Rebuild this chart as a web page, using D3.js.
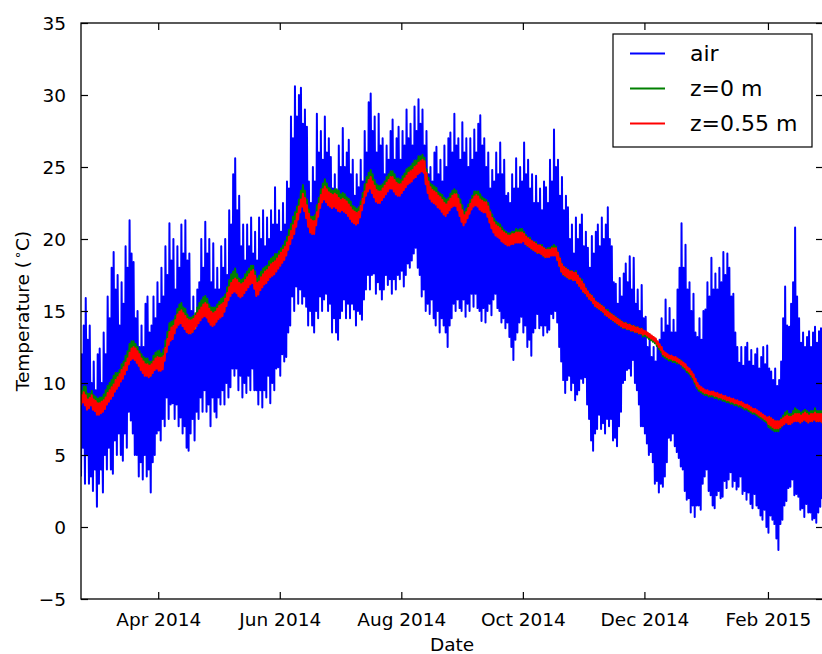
<!DOCTYPE html>
<html>
<head>
<meta charset="utf-8">
<script src="https://cdn.jsdelivr.net/npm/d3@7"></script>
<style>
  body { margin: 0; background: #fff; }
  svg { display: block; }
  text { font-family: "DejaVu Sans", sans-serif; fill: #000; }
</style>
</head>
<body>
<svg id="chart" width="822" height="654"></svg>
<script>
// Daily series, one value per day starting 21 Feb 2014.
const firstDay = "2014-02-21";

// Air temperature: daily maximum and minimum (deg C)
const airHi = [
  12, 14, 15.9, 13, 14, 10, 11.5, 9.5, 12, 12.4,
  10, 13.5, 12, 16, 14.5, 18, 19.1, 16.5, 17.5, 14,
  17, 15.5, 19.5, 18, 21.3, 19, 18.4, 14.5, 15, 12.5,
  14, 12.5, 15.5, 16, 13.5, 14, 16, 14.5, 17, 15.5,
  18, 16, 19.5, 17.5, 21.1, 18.5, 20, 16.5, 19.5, 18,
  21, 19, 21.3, 18.5, 19, 15, 16, 13.7, 16.5, 17,
  20, 18, 21.2, 19, 20, 17, 19.7, 16.5, 18, 16.5,
  19.5, 18, 20, 17.5, 22, 21, 24.5, 25.6, 22, 23,
  19.5, 21, 18.5, 21, 19.5, 21.5, 19, 20.5, 18.5, 21.5,
  20, 22, 19.5, 21.5, 20, 22, 21, 23.6, 21, 22,
  20.5, 22.5, 21, 24, 23.5, 28.5, 27, 30.6, 28.5, 30,
  30.5, 28, 29, 27.8, 24, 22.5, 25, 24, 28.7, 26,
  27.5, 25.5, 28.5, 26, 27, 25.7, 23.5, 24.5, 23, 26.5,
  25, 27.7, 25, 26, 26.9, 24.5, 25.5, 23, 24.5, 23.6,
  25.5, 24, 27.5, 26, 29.5, 30.1, 27.5, 28.5, 26, 28.7,
  26.5, 27, 24.5, 26.5, 25.5, 27.5, 28.3, 25.5, 27, 27.8,
  25.5, 27.5, 26.5, 29, 27, 28, 26.5, 29.2, 27.5, 29.7,
  28, 29, 26.5, 27.5, 24.5, 25, 24, 26, 26.4, 24.5,
  25.5, 24, 26.5, 25, 27, 27.4, 26, 28.7, 26.5, 27,
  25.5, 28.1, 26, 27, 25, 27, 25.5, 27.6, 26, 28,
  28.6, 26.5, 27, 25, 26, 23.5, 24.8, 24, 26, 24.5,
  26.7, 24.5, 25.5, 23, 23.2, 22.5, 24.5, 23.5, 25.6, 23.5,
  25, 24, 26.7, 24.5, 25.5, 23.5, 24.5, 22.5, 24.4, 22.5,
  23.5, 22, 24, 23.6, 22.5, 25.5, 24, 27.6, 25, 25.5,
  23, 24.3, 22, 23, 22.2, 20, 21, 19, 21.5, 20,
  21, 21.7, 19.5, 20.5, 19.4, 18, 20.2, 19, 20.5, 21,
  19.5, 21.5, 20, 21, 22.2, 20, 19.5, 17, 16.9, 15.5,
  17.3, 16, 17.6, 18.3, 17, 18.8, 16.5, 18.7, 15.5, 16.5,
  15, 16.8, 14.5, 14.6, 12.5, 13, 11.8, 12.5, 11.5, 12.8,
  13, 14.5, 13.5, 15.8, 14, 15.2, 13.5, 14.4, 13.5, 16.5,
  18, 21.1, 18, 19.6, 16.5, 17, 15, 16.2, 13.5, 13.2,
  14.5, 13, 15, 15.1, 17, 16, 18.7, 16.5, 17.6, 16.5,
  18, 17, 19.1, 17.5, 19, 18, 16, 16.2, 13.5, 12.5,
  11.4, 12.5, 11.2, 12.5, 12.8, 11.5, 12.3, 11.2, 12, 12.4,
  11, 11.8, 12.5, 11.3, 12.6, 11, 10.8, 10.2, 11, 9.8,
  10.2, 11.5, 14.5, 16.7, 14, 13.9, 15.5, 17, 20.8, 16,
  14.5, 12.8, 13.5, 12.5, 13.2, 13.6, 12.5, 13.5, 13.9, 12.8,
  13.6, 13.8, 13
];
const airLo = [
  3.5, 5.5, 3, 5, 3, 3.5, 2.5, 4, 1.4, 3,
  4, 2.4, 5, 4, 5.5, 4, 3.7, 6, 5, 6.5,
  5, 4.6, 6.5, 5.5, 8, 7.4, 6.5, 5, 5, 3.5,
  4.5, 3.3, 5, 3.5, 4, 2.4, 4.5, 5, 6.5, 6.7,
  6, 7.5, 7, 9, 7.5, 8.5, 8.6, 7.5, 8.5, 7,
  7.6, 6.5, 7, 5.5, 5.3, 6.5, 7.5, 6, 8, 7.5,
  9, 8, 9.5, 8, 8.5, 7, 9, 8, 7.6, 9,
  8.5, 9.5, 8.5, 10, 9, 9.7, 11, 10.5, 11, 9.5,
  10.5, 9, 10, 9.3, 10.5, 9.5, 11, 9.5, 9.5, 8.5,
  9.5, 8.3, 9.5, 9, 10.5, 8.6, 10, 9.5, 11, 11.1,
  10.5, 12, 11.5, 11.8, 13.5, 14, 16, 15, 16.7, 15.5,
  16.5, 15.5, 16, 15.3, 14, 15, 14, 13.5, 15, 14.5,
  16, 15, 15.8, 16.2, 15, 15.5, 13.5, 14.5, 13.5, 13,
  14.5, 15, 15.8, 14.5, 15.5, 14.5, 15.5, 15.1, 14, 15,
  14.8, 14.4, 15.8, 16.5, 17.5, 16.5, 17.5, 17.6, 16.2, 17,
  16.5, 15.8, 16.5, 17.5, 16.8, 17.2, 16.2, 17.2, 16.5, 17.5,
  17.2, 17.8, 16.7, 17.5, 18.3, 18, 18.5, 19, 19.4, 18,
  17.5, 16, 16.5, 15, 15.5, 14.8, 15.8, 14.5, 14, 15,
  13.5, 14.5, 14, 13.5, 12.5, 14, 14.5, 15.5, 15, 15.8,
  15.2, 15, 15.8, 14.6, 15.5, 15, 16.2, 15.3, 16.2, 15.2,
  15, 14.3, 15.2, 14.2, 15, 15.5, 14.7, 15.8, 16.2, 15.2,
  15, 14.2, 14.5, 13.8, 14.2, 13.2, 12.5, 11.6, 13, 13.5,
  14.2, 14.6, 13.5, 14, 12.5, 13, 11.9, 13.5, 13.8, 14.8,
  13.8, 14, 13.3, 14, 13.5, 13.7, 14.8, 14.5, 15, 14.2,
  12.5, 11.5, 10.2, 9.3, 10.2, 10.5, 9.5, 10, 8.8, 9.2,
  9.5, 10.3, 10, 10.4, 8.5, 7.5, 6, 5.3, 6.5, 6.8,
  7.8, 6.8, 7.2, 6.5, 7.5, 7, 7.5, 6, 6.2, 5.6,
  7, 8, 10, 10.2, 10.9, 11, 10.5, 11.6, 10, 9.5,
  8.5, 7, 7, 6.5, 5.8, 5, 5.2, 4.5, 3, 3.2,
  2.4, 3, 2.8, 3.5, 4.5, 6.2, 6, 6.5, 5.6, 5.2,
  4.8, 4.2, 4, 2.5, 1.9, 2, 1, 1.5, 0.7, 1.5,
  1.5, 1.2, 3, 3.5, 4, 2.5, 2.2, 1.5, 1.3, 2.2,
  2.5, 2, 2.1, 3.2, 2.7, 3.3, 3.8, 2.8, 3.2, 2.6,
  2.8, 3.5, 2.3, 2.5, 1.9, 2.4, 1.6, 1.3, 2.3, 1.5,
  1.3, 0.8, 0.5, 1.2, 0, -0.4, 0.8, 0.5, 0.2, -0.8,
  -1.6, 0.2, 0.5, 1.5, 1.8, 2.7, 2.8, 3.3, 2.2, 2.3,
  2.1, 1.2, 1.3, 0.7, 1.6, 1, 1, 0.5, 0.6, 0.3,
  1, 1.4, 2
];

// Soil temperature at the surface (z = 0 m): daily mean
const z0Mean = [
  9.0, 9.3, 9.3, 8.8, 8.8, 9.0, 8.7, 8.6, 8.4, 8.5,
  8.5, 8.7, 9.0, 9.3, 9.5, 9.7, 10.0, 10.2, 10.2, 10.4,
  10.8, 11.0, 11.4, 11.7, 12.2, 12.4, 12.4, 12.2, 12.0, 11.7,
  11.5, 11.3, 11.2, 11.2, 11.0, 11.0, 11.4, 11.6, 11.7, 11.7,
  11.5, 11.8, 12.4, 13.0, 13.6, 13.7, 13.8, 14.1, 14.6, 14.9,
  15.0, 14.7, 14.6, 14.2, 14.0, 14.0, 14.1, 14.3, 14.7, 15.0,
  15.2, 15.4, 15.5, 15.3, 14.9, 14.7, 14.7, 14.7, 14.9, 15.1,
  15.3, 15.4, 15.6, 16.1, 16.6, 17.0, 17.2, 17.4, 17.0, 16.7,
  16.6, 16.7, 17.0, 17.2, 17.4, 17.6, 17.6, 17.2, 16.7, 16.9,
  17.2, 17.4, 17.5, 17.6, 17.9, 18.1, 18.2, 18.4, 18.4, 18.6,
  18.8, 19.0, 19.3, 19.6, 20.1, 20.5, 21.0, 21.3, 21.7, 22.2,
  22.8, 23.2, 22.8, 22.2, 21.5, 21.0, 21.0, 21.1, 21.8, 22.3,
  22.9, 23.3, 23.6, 23.3, 23.0, 22.9, 22.8, 22.9, 22.9, 22.8,
  22.6, 22.7, 22.6, 22.4, 22.3, 22.1, 21.8, 21.7, 21.6, 21.7,
  22.1, 22.7, 23.3, 23.8, 24.1, 24.3, 24.0, 23.6, 23.3, 23.2,
  23.2, 23.3, 23.5, 23.8, 24.0, 24.2, 24.2, 24.0, 23.7, 23.7,
  23.6, 23.9, 24.1, 24.4, 24.5, 24.6, 24.8, 25.0, 25.0, 25.3,
  25.3, 25.4, 25.2, 24.4, 23.8, 23.4, 23.3, 23.2, 23.1, 22.8,
  22.7, 22.6, 22.4, 22.3, 22.4, 22.7, 22.9, 23.0, 22.9, 22.6,
  22.3, 21.9, 21.5, 21.7, 22.0, 22.3, 22.6, 22.9, 22.9, 22.9,
  22.7, 22.5, 22.4, 22.3, 22.1, 21.6, 21.3, 21.0, 20.8, 20.7,
  20.6, 20.4, 20.2, 20.1, 20.0, 20.0, 20.1, 20.1, 20.3, 20.2,
  20.3, 20.3, 20.2, 20.0, 19.8, 19.8, 19.6, 19.5, 19.5, 19.3,
  19.3, 19.3, 19.1, 19.0, 19.1, 19.1, 19.2, 19.3, 19.2, 18.8,
  18.4, 18.0, 17.8, 17.7, 17.6, 17.5, 17.5, 17.4, 17.5, 17.2,
  17.0, 16.9, 16.6, 16.4, 16.2, 16.0, 15.9, 15.7, 15.5, 15.4,
  15.3, 15.2, 15.1, 14.9, 14.9, 14.7, 14.6, 14.5, 14.4, 14.3,
  14.2, 14.1, 14.0, 14.0, 13.9, 13.9, 13.8, 13.8, 13.7, 13.7,
  13.6, 13.6, 13.4, 13.4, 13.3, 13.2, 13.1, 13.0, 12.9, 12.7,
  12.5, 12.3, 12.0, 11.9, 11.8, 11.7, 11.7, 11.6, 11.6, 11.5,
  11.5, 11.4, 11.2, 11.1, 10.9, 10.8, 10.6, 10.4, 10.1, 9.8,
  9.6, 9.5, 9.4, 9.3, 9.3, 9.2, 9.2, 9.2, 9.1, 9.1,
  9.0, 9.0, 8.9, 8.9, 8.8, 8.8, 8.7, 8.7, 8.6, 8.6,
  8.5, 8.5, 8.4, 8.3, 8.3, 8.2, 8.1, 8.0, 8.0, 7.9,
  7.8, 7.7, 7.6, 7.5, 7.4, 7.3, 7.2, 7.1, 7.0, 7.0,
  7.0, 7.2, 7.4, 7.6, 7.7, 7.5, 7.5, 7.7, 7.9, 7.8,
  7.7, 7.6, 7.7, 7.8, 7.7, 7.6, 7.7, 7.7, 7.9, 7.7,
  7.7, 7.7, 7.6
];

// Soil temperature at 0.55 m depth: daily mean
const z55Mean = [
  8.8, 9, 8.8, 8.5, 8.6, 8.8, 8.5, 8.4, 8.2, 8.2,
  8.3, 8.4, 8.6, 8.9, 9.1, 9.3, 9.5, 9.8, 10, 10.2,
  10.5, 10.7, 11, 11.3, 11.7, 12, 12.1, 12, 11.8, 11.6,
  11.3, 11.1, 10.9, 10.9, 10.8, 10.9, 11.1, 11.3, 11.4, 11.3,
  11.3, 11.4, 12, 12.6, 13.1, 13.4, 13.5, 13.9, 14.3, 14.5,
  14.6, 14.4, 14.2, 14, 13.9, 13.9, 14, 14.2, 14.4, 14.6,
  14.8, 15, 15.1, 15, 14.7, 14.5, 14.4, 14.5, 14.7, 14.9,
  15, 15.1, 15.4, 15.8, 16.2, 16.5, 16.7, 16.8, 16.7, 16.5,
  16.4, 16.5, 16.7, 16.9, 17.1, 17.3, 17.4, 17, 16.5, 16.6,
  16.9, 17.1, 17.3, 17.4, 17.6, 17.8, 17.9, 18, 18.2, 18.4,
  18.6, 18.8, 19, 19.3, 19.7, 20.1, 20.5, 20.8, 21.3, 21.8,
  22.3, 22.7, 22.4, 21.9, 21.3, 20.9, 20.8, 20.8, 21.4, 22,
  22.6, 23, 23.2, 23, 22.8, 22.7, 22.6, 22.7, 22.6, 22.4,
  22.3, 22.4, 22.3, 22.2, 22, 21.8, 21.6, 21.5, 21.4, 21.5,
  21.9, 22.4, 22.9, 23.4, 23.7, 23.9, 23.6, 23.3, 23, 22.9,
  22.9, 23.1, 23.3, 23.5, 23.7, 23.9, 23.9, 23.7, 23.5, 23.4,
  23.4, 23.6, 23.8, 24, 24.2, 24.3, 24.4, 24.6, 24.7, 24.9,
  25, 25.1, 25, 24.2, 23.6, 23.2, 23, 22.9, 22.8, 22.6,
  22.5, 22.3, 22.1, 22, 22.2, 22.4, 22.6, 22.7, 22.7, 22.4,
  22, 21.6, 21.3, 21.5, 21.8, 22.1, 22.4, 22.6, 22.7, 22.6,
  22.4, 22.3, 22.2, 22.2, 21.9, 21.5, 21.1, 20.8, 20.6, 20.5,
  20.4, 20.2, 20.1, 20, 19.9, 19.9, 20, 20, 20.1, 20.1,
  20.1, 20.1, 20.1, 19.9, 19.8, 19.7, 19.6, 19.5, 19.4, 19.3,
  19.3, 19.2, 19.1, 19, 19, 19, 19.1, 19.1, 19.1, 18.8,
  18.4, 18, 17.8, 17.7, 17.6, 17.5, 17.5, 17.4, 17.4, 17.2,
  17, 16.8, 16.6, 16.4, 16.2, 16, 15.9, 15.7, 15.5, 15.4,
  15.3, 15.2, 15.1, 14.9, 14.8, 14.7, 14.6, 14.5, 14.4, 14.3,
  14.2, 14.1, 14, 14, 13.9, 13.9, 13.8, 13.8, 13.7, 13.7,
  13.6, 13.6, 13.5, 13.5, 13.4, 13.3, 13.2, 13.1, 13, 12.8,
  12.6, 12.4, 12.1, 12, 11.9, 11.8, 11.8, 11.7, 11.7, 11.6,
  11.5, 11.4, 11.3, 11.2, 11, 10.9, 10.7, 10.5, 10.2, 9.9,
  9.7, 9.6, 9.5, 9.4, 9.4, 9.3, 9.3, 9.3, 9.2, 9.2,
  9.1, 9.1, 9, 9, 8.9, 8.9, 8.8, 8.8, 8.7, 8.7,
  8.6, 8.6, 8.5, 8.4, 8.4, 8.3, 8.2, 8.1, 8.1, 8,
  7.9, 7.8, 7.7, 7.6, 7.5, 7.4, 7.3, 7.2, 7.1, 7.1,
  7.1, 7.2, 7.3, 7.4, 7.5, 7.4, 7.4, 7.5, 7.6, 7.6,
  7.6, 7.5, 7.6, 7.7, 7.6, 7.5, 7.6, 7.6, 7.7, 7.6,
  7.6, 7.6, 7.5
];

// Typical half of the daily soil temperature range, by month (Feb 2014 .. Feb 2015)
const z0Swing  = [0.45, 0.5, 0.55, 0.55, 0.55, 0.5, 0.45, 0.4, 0.28, 0.18, 0.14, 0.14, 0.35];
const z55Swing = [0.35, 0.4, 0.45, 0.45, 0.45, 0.4, 0.4, 0.35, 0.25, 0.15, 0.1, 0.1, 0.25];

// Axis ticks and legend
const xTickDates = ["2014-04-01", "2014-06-01", "2014-08-01", "2014-10-01", "2014-12-01", "2015-02-01"];
const yTickValues = [-5, 0, 5, 10, 15, 20, 25, 30, 35];
const seriesNames = ["air", "z=0 m", "z=0.55 m"];
const seriesColors = ["#0000ff", "#008000", "#ff0000"];

// ---------------------------------------------------------------
const svg = d3.select("#chart");
const plot = { left: 81, top: 23, right: 823, bottom: 599 };
const tickLen = 7;
const tickFont = 18.5;

const parseDay = d3.utcParse("%Y-%m-%d");
const day0 = parseDay(firstDay);
const nDays = Math.min(airHi.length, airLo.length, z0Mean.length, z55Mean.length);

function monthIndex(t) {
  return (t.getUTCFullYear() - 2014) * 12 + t.getUTCMonth() - 1;
}

// Each day contributes a morning low and an afternoon high reading.
const airSeries = [], z0Series = [], z55Series = [];
for (let i = 0; i < nDays; i++) {
  const d = d3.utcDay.offset(day0, i);
  const morning = d3.utcHour.offset(d, 6);
  const afternoon = d3.utcHour.offset(d, 15);
  const m = monthIndex(d);
  airSeries.push({ t: morning, v: airLo[i] }, { t: afternoon, v: airHi[i] });
  z0Series.push({ t: morning, v: z0Mean[i] - z0Swing[m] }, { t: afternoon, v: z0Mean[i] + z0Swing[m] });
  z55Series.push({ t: morning, v: z55Mean[i] - z55Swing[m] }, { t: afternoon, v: z55Mean[i] + z55Swing[m] });
}

const x = d3.scaleUtc()
  .domain([airSeries[0].t, airSeries[airSeries.length - 1].t])
  .range([plot.left, plot.right]);
const y = d3.scaleLinear()
  .domain([-5, 35])
  .range([plot.bottom, plot.top]);

svg.append("defs").append("clipPath").attr("id", "plotClip")
  .append("rect")
  .attr("x", plot.left).attr("y", plot.top)
  .attr("width", plot.right - plot.left).attr("height", plot.bottom - plot.top);

const line = d3.line().x(d => x(d.t)).y(d => y(d.v));
const gLines = svg.append("g").attr("clip-path", "url(#plotClip)");
const widths = [2, 2, 2];
[airSeries, z0Series, z55Series].forEach((s, k) => {
  gLines.append("path")
    .datum(s)
    .attr("d", line)
    .attr("fill", "none")
    .attr("stroke", seriesColors[k])
    .attr("stroke-width", widths[k])
    .attr("stroke-linejoin", "round");
});

// Axes: ticks point inwards on all four sides
const xTicks = xTickDates.map(parseDay);
const fmt = d3.utcFormat("%b %Y");

const axBottom = d3.axisBottom(x).tickValues(xTicks).tickFormat(fmt).tickSize(-tickLen).tickPadding(tickLen + 7);
const axTop = d3.axisTop(x).tickValues(xTicks).tickFormat("").tickSize(-tickLen);
const axLeft = d3.axisLeft(y).tickValues(yTickValues).tickFormat(d3.format("d")).tickSize(-tickLen).tickPadding(tickLen + 8);
const axRight = d3.axisRight(y).tickValues(yTickValues).tickFormat("").tickSize(-tickLen);

function styleAxis(g) {
  g.select(".domain").remove();
  g.selectAll(".tick line").attr("stroke", "#000").attr("stroke-width", 1.2);
  g.selectAll(".tick text")
    .attr("font-family", "DejaVu Sans, sans-serif")
    .attr("font-size", tickFont)
    .attr("fill", "#000");
}

svg.append("g").attr("transform", `translate(0,${plot.bottom})`).call(axBottom).call(styleAxis)
  .selectAll(".tick text").attr("dy", "0.71em");
svg.append("g").attr("transform", `translate(0,${plot.top})`).call(axTop).call(styleAxis);
svg.append("g").attr("transform", `translate(${plot.left},0)`).call(axLeft).call(styleAxis)
  .selectAll(".tick text").attr("dy", "0.36em");
svg.append("g").attr("transform", `translate(${plot.right},0)`).call(axRight).call(styleAxis);

// Frame
svg.append("rect")
  .attr("x", plot.left).attr("y", plot.top)
  .attr("width", plot.right - plot.left).attr("height", plot.bottom - plot.top)
  .attr("fill", "none").attr("stroke", "#000").attr("stroke-width", 1.3);

// Axis titles
svg.append("text")
  .attr("x", (plot.left + plot.right) / 2).attr("y", 651)
  .attr("text-anchor", "middle").attr("font-size", tickFont)
  .text("Date");

const yTitle = svg.append("text")
  .attr("transform", `translate(29,${(plot.top + plot.bottom) / 2}) rotate(-90)`)
  .attr("text-anchor", "middle").attr("font-size", tickFont);
yTitle.append("tspan").text("Temperature (");
yTitle.append("tspan").attr("font-size", tickFont * 0.7).attr("dy", "-0.55em").attr("dx", "0.15em").text("\u2218");
yTitle.append("tspan").attr("dy", "0.39em").text("C)");

// Legend
const legend = { x: 613, y: 34, w: 199, h: 113, rowGap: 35, firstRow: 53.5, font: 22 };
const gLeg = svg.append("g");
gLeg.append("rect")
  .attr("x", legend.x).attr("y", legend.y)
  .attr("width", legend.w).attr("height", legend.h)
  .attr("fill", "#fff").attr("stroke", "#000").attr("stroke-width", 1.2);
seriesNames.forEach((name, k) => {
  const yy = legend.firstRow + k * legend.rowGap;
  gLeg.append("line")
    .attr("x1", legend.x + 17).attr("x2", legend.x + 52)
    .attr("y1", yy).attr("y2", yy)
    .attr("stroke", seriesColors[k]).attr("stroke-width", 2);
  gLeg.append("text")
    .attr("x", legend.x + 77).attr("y", yy + legend.font * 0.36)
    .attr("font-size", legend.font)
    .text(name);
});
</script>
</body>
</html>
